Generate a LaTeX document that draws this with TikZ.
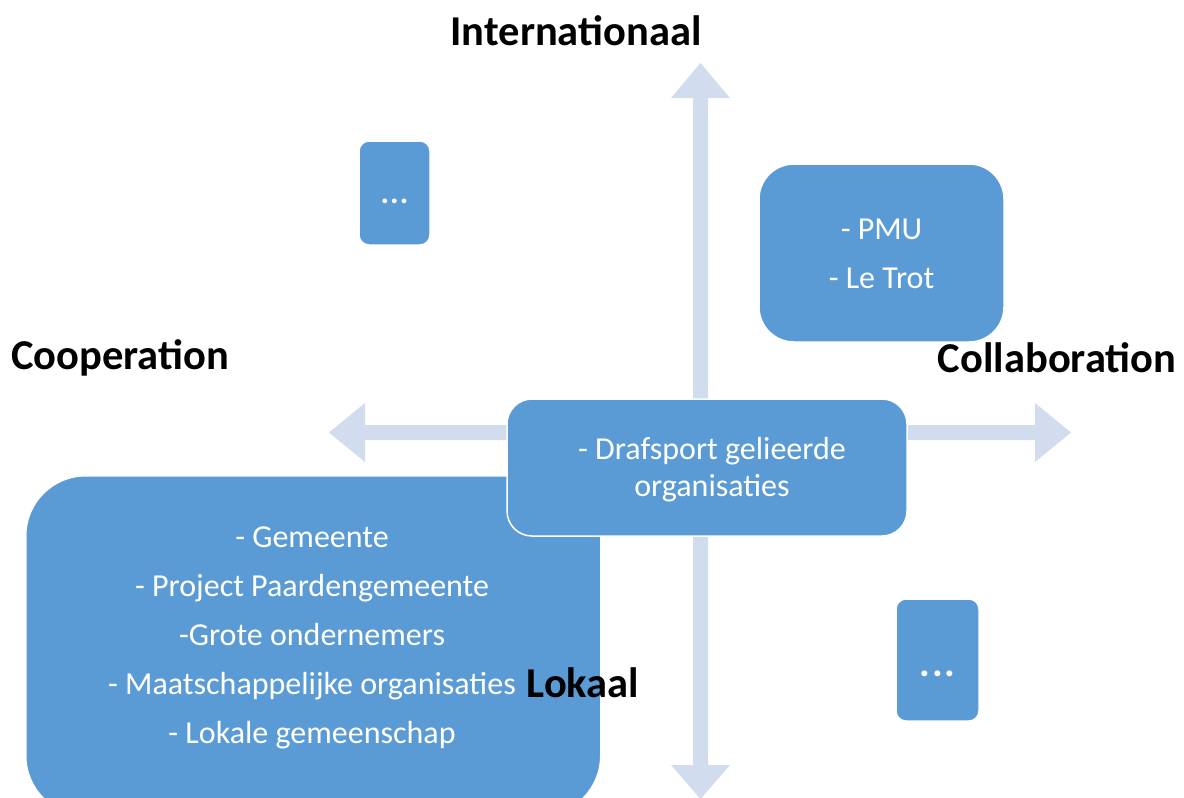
\documentclass[tikz,border=0pt]{standalone}
\usepackage{fontspec}
\setmainfont{Carlito}
\definecolor{boxblue}{HTML}{5B9BD5}
\definecolor{axisblue}{HTML}{D1DCEE}
\begin{document}
\begin{tikzpicture}[x=1pt,y=-1pt,
  box/.style={fill=boxblue, draw=white, line width=1.5pt, text=white,
    align=center, inner sep=0pt, font=\fontsize{32}{49}\selectfont},
  boxtext/.style={text=white, align=center, inner sep=0pt, font=\fontsize{32}{49}\selectfont},
  axislabel/.style={font=\fontsize{42.5}{46}\selectfont\bfseries, text=black, inner sep=0pt},
  axisfill/.style={fill=axisblue}]
\useasboundingbox (0,0) rectangle (1184,798);
\clip (0,0) rectangle (1184,798);
% axes
\coordinate (N) at (700.5,63);
\coordinate (S) at (700.5,799);
\coordinate (W) at (329,432.5);
\coordinate (E) at (1071,432.5);
\fill[axisfill] (N) -- (730,98) -- (708,98) -- (708,765) -- (730,765) -- (S)
  -- (671,765) -- (693,765) -- (693,98) -- (671,98) -- cycle;
\fill[axisfill] (W) -- (365,403) -- (365,425) -- (1035,425) -- (1035,403) -- (E)
  -- (1035,462) -- (1035,440) -- (365,440) -- (365,462) -- cycle;
% boxes
\node[box, rounded corners=10pt, minimum width=71pt, minimum height=104pt] (tl) at (394.5,193) {};
\node[boxtext, font=\fontsize{32}{36}\selectfont\bfseries, anchor=base] (tltext) at (394.5,203) {.\kern1pt.\kern1pt.};
\node[box, rounded corners=35pt, minimum width=245pt, minimum height=178pt] (tr) at (881.5,253) {};
\node[boxtext] (trtext) at (881.5,254) {- PMU\\- Le Trot};
\node[box, rounded corners=10pt, minimum width=83pt, minimum height=122pt] (br) at (937.5,660) {};
\node[boxtext, font=\fontsize{40}{44}\selectfont\bfseries, anchor=base] (brtext) at (937.5,676) {.\kern2pt.\kern2pt.};
\node[box, rounded corners=60pt, minimum width=575pt, minimum height=340pt, anchor=north west] (bl) at (25,475) {};
\node[boxtext] (bltext) at (312,638) {- Gemeente\\- Project Paardengemeente\\-Grote ondernemers\\- Maatschappelijke organisaties\\- Lokale gemeenschap};
\node[box, rounded corners=25pt, minimum width=400pt, minimum height=137pt] (c) at (707,467.5) {};
\node[boxtext, font=\fontsize{32}{37}\selectfont] (ctext) at (712,470) {- Drafsport gelieerde\\organisaties};
% labels
\node[axislabel] (lint) at (576,31) {Internationaal};
\node[axislabel] (lcoop) at (120,358) {Cooperation};
\node[axislabel] (lcoll) at (1057,358) {Collaboration};
\node[axislabel] (llok) at (583,683) {Lokaal};
\end{tikzpicture}
\end{document}
